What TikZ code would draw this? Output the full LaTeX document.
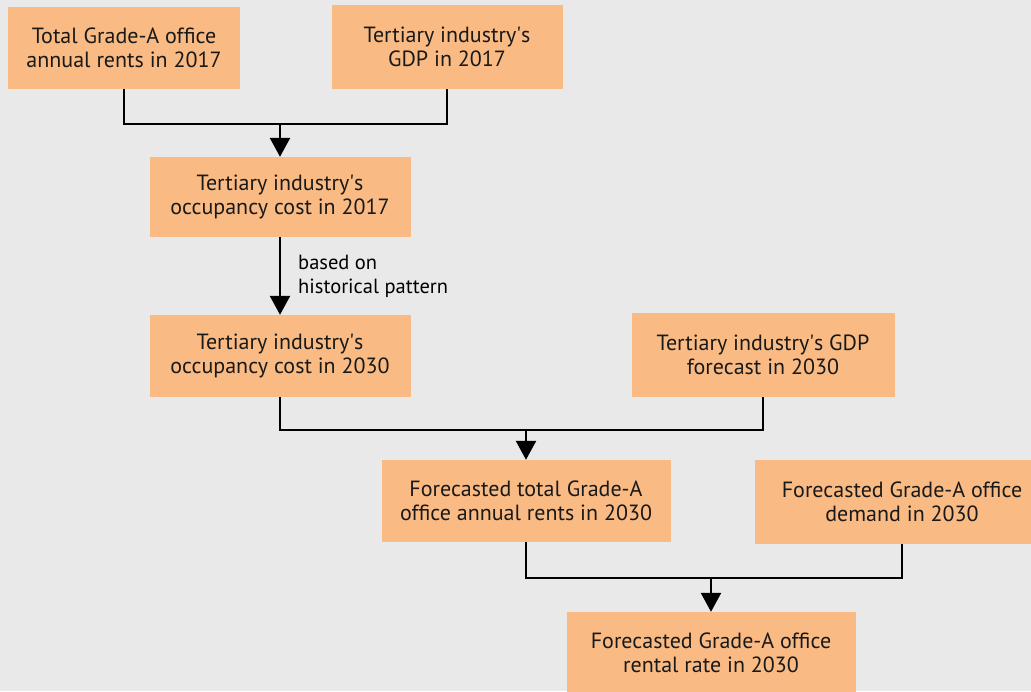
\documentclass[tikz,border=0pt]{standalone}
\usepackage{fontspec}
\setmainfont{PT Sans}
\usetikzlibrary{arrows.meta, positioning}

\definecolor{boxorange}{HTML}{F9BB83}
\definecolor{paper}{HTML}{E9E9E9}

\tikzset{
  block/.style={rectangle, fill=boxorange, align=center, inner sep=0pt,
    text=black!90, font=\fontsize{22}{24}\selectfont},
  link/.style={line width=1.6pt},
  feed/.style={line width=2.4pt, -{Triangle[width=20pt,length=19pt]}}
}

\begin{document}
\begin{tikzpicture}[x=1pt,y=-1pt]

        % page
        \fill[paper] (0,0) rectangle (1031,691);
        \useasboundingbox (0,0) rectangle (1031,691);

        % boxes
        \node[block, minimum width=232pt, minimum height=82pt] (rent17)   at (124,48)  {Total Grade-A office\\annual rents in 2017};
        \node[block, minimum width=231pt, minimum height=84pt] (gdp17)    at (447,47)  {Tertiary industry\textquotesingle s\\GDP in 2017};
        \node[block, minimum width=261pt, minimum height=80pt] (cost17)   at (280,197) {Tertiary industry\textquotesingle s\\occupancy cost in 2017};
        \node[block, minimum width=261pt, minimum height=82pt] (cost30)   at (280,356) {Tertiary industry\textquotesingle s\\occupancy cost in 2030};
        \node[block, minimum width=263pt, minimum height=84pt] (gdp30)    at (763,355) {Tertiary industry\textquotesingle s GDP\\forecast in 2030};
        \node[block, minimum width=289pt, minimum height=82pt] (rent30)   at (526,501) {Forecasted total Grade-A\\office annual rents in 2030};
        \node[block, minimum width=294pt, minimum height=84pt] (demand30) at (902,502) {Forecasted Grade-A office\\demand in 2030};
        \node[block, minimum width=289pt, minimum height=82pt] (rate30)   at (711,653) {Forecasted Grade-A office\\rental rate in 2030};

        % joins
        \coordinate (m1) at (280,124);
        \coordinate (m2) at (526,430);
        \coordinate (m3) at (711,578);

        \draw[link] (rent17.south) |- (m1) -| (gdp17.south);
        \draw[feed] (m1) -- (cost17.north);
        \draw[feed] (cost17.south) -- node[right=17pt, align=left, inner sep=0pt,
            font=\fontsize{20.5}{24}\selectfont] (hist) {based on\\historical pattern} (cost30.north);
        \draw[link] (cost30.south) |- (m2) -| (gdp30.south);
        \draw[feed] (m2) -- (rent30.north);
        \draw[link] (rent30.south) |- (m3) -| (demand30.south);
        \draw[feed] (m3) -- (rate30.north);

\end{tikzpicture}
\end{document}
